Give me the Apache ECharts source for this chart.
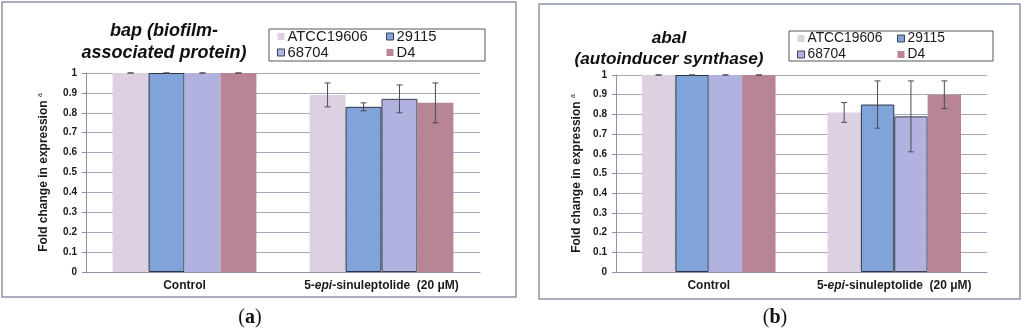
<!DOCTYPE html>
<html>
<head>
<meta charset="utf-8">
<script src="https://cdn.jsdelivr.net/npm/echarts@6/dist/echarts.min.js"></script>
<style>
html,body{margin:0;padding:0;background:#fff;}
#c{width:1024px;height:335px;}
</style>
</head>
<body>
<div id="c"></div>
<script>
// ---- data ----
const categories = ['Control', '5-epi-sinuleptolide  (20 μM)'];
const strains = ['ATCC19606', '29115', '68704', 'D4'];
const yTicks = [0, 0.1, 0.2, 0.3, 0.4, 0.5, 0.6, 0.7, 0.8, 0.9, 1];

// panel (a): bap (biofilm-associated protein)
const bapATCC = [1, 0.89];
const bap29115 = [1, 0.83];
const bap68704 = [1, 0.87];
const bapD4 = [1, 0.85];
const bapATCCErr = [0, 0.06];
const bap29115Err = [0, 0.02];
const bap68704Err = [0, 0.07];
const bapD4Err = [0, 0.10];

// panel (b): abaI (autoinducer synthase)
const abaATCC = [1, 0.81];
const aba29115 = [1, 0.85];
const aba68704 = [1, 0.79];
const abaD4 = [1, 0.90];
const abaATCCErr = [0, 0.05];
const aba29115Err = [0, 0.12];
const aba68704Err = [0, 0.18];
const abaD4Err = [0, 0.07];

// ---- styles ----
const colors = ['#ddd0e1', '#80a3d9', '#b1b2df', '#b78596'];
const FONT = 'Liberation Sans, Arial, sans-serif';
const gridLine = '#a6a9bd';
const axisCol = '#8c90a8';

const chart = echarts.init(document.getElementById('c'));

const panels = [
  { vals: [bapATCC, bap29115, bap68704, bapD4], errs: [bapATCCErr, bap29115Err, bap68704Err, bapD4Err], gap: 0.27, nameGap: 35 },
  { vals: [abaATCC, aba29115, aba68704, abaD4], errs: [abaATCCErr, aba29115Err, aba68704Err, abaD4Err], gap: 0.28, nameGap: 32 }
];

function xLabel(v) {
  if (v.indexOf('epi') >= 0) {
    const parts = v.split('epi');
    return '{b|' + parts[0] + '}{i|epi}{b|' + parts[1] + '}';
  }
  return '{b|' + v + '}';
}

const xAxes = [], yAxes = [], series = [];
panels.forEach(function (p, gi) {
  xAxes.push({
    type: 'category', gridIndex: gi, data: categories,
    axisLine: { lineStyle: { color: axisCol, width: 1 } },
    axisTick: { show: false },
    axisLabel: {
      margin: 8, interval: 0, formatter: xLabel,
      rich: {
        b: { fontFamily: FONT, fontSize: 12, fontWeight: 'bold', color: '#1a1a1a' },
        i: { fontFamily: FONT, fontSize: 12, fontWeight: 'bold', fontStyle: 'italic', color: '#1a1a1a' }
      }
    }
  });
  yAxes.push({
    type: 'value', gridIndex: gi, min: yTicks[0], max: yTicks[yTicks.length - 1], interval: yTicks[1] - yTicks[0],
    name: '{n|Fold change in expression }{s|a}',
    nameLocation: 'middle', nameRotate: 90, nameGap: p.nameGap,
    nameTextStyle: {
      rich: {
        n: { fontFamily: FONT, fontSize: 12, fontWeight: 'bold', color: '#1a1a1a', lineHeight: 14 },
        s: { fontFamily: FONT, fontSize: 7, color: '#1a1a1a', verticalAlign: 'top', lineHeight: 14 }
      }
    },
    axisLine: { show: true, lineStyle: { color: axisCol, width: 1 } },
    axisTick: { show: true, length: 4, lineStyle: { color: axisCol } },
    splitLine: { show: true, lineStyle: { color: gridLine, width: 1 } },
    axisLabel: { fontFamily: FONT, fontSize: 10, fontWeight: 'bold', color: '#1a1a1a', margin: 9 }
  });
  strains.forEach(function (s, si) {
    const data = p.vals[si].map(function (v, ci) {
      if (si === 2 && ci === 1) {
        return { value: v, itemStyle: { borderColor: '#3a4254', borderWidth: 1 } };
      }
      return v;
    });
    series.push({
      name: s, type: 'bar', xAxisIndex: gi, yAxisIndex: gi, data: data,
      barGap: '0%', barCategoryGap: (p.gap * 100) + '%',
      itemStyle: si === 1 ? { color: colors[si], borderColor: '#2b3446', borderWidth: 1 } : { color: colors[si] },
      emphasis: { disabled: true }, animation: false
    });
  });
  const errData = [];
  strains.forEach(function (s, si) {
    p.vals[si].forEach(function (v, ci) {
      errData.push([ci, v - p.errs[si][ci], v + p.errs[si][ci], si]);
    });
  });
  const gap = p.gap;
  series.push({
    type: 'custom', xAxisIndex: gi, yAxisIndex: gi, z: 10, animation: false,
    encode: { x: 0, y: [1, 2] },
    data: errData,
    renderItem: function (params, api) {
      const ci = api.value(0), lo = api.value(1), hi = api.value(2), si = api.value(3);
      const band = api.size([1, 0])[0];
      const groupW = band * (1 - gap);
      const barW = groupW / strains.length;
      const cx = api.coord([ci, 0])[0] - groupW / 2 + barW * (si + 0.5);
      const yLo = api.coord([ci, lo])[1], yHi = api.coord([ci, hi])[1];
      const cap = 3;
      const st = { stroke: '#4a4a55', lineWidth: 1 };
      return {
        type: 'group',
        children: [
          { type: 'line', shape: { x1: cx, y1: yLo, x2: cx, y2: yHi }, style: st },
          { type: 'line', shape: { x1: cx - cap, y1: yHi, x2: cx + cap, y2: yHi }, style: st },
          { type: 'line', shape: { x1: cx - cap, y1: yLo, x2: cx + cap, y2: yLo }, style: st }
        ]
      };
    }
  });
});

function legendData(names) {
  return names.map(function (n) {
    const si = strains.indexOf(n);
    if (si === 1 || si === 2) {
      return { name: n, itemStyle: { borderColor: '#3a4254', borderWidth: 1 } };
    }
    return { name: n };
  });
}
function mkLegend(left, top, names, fs) {
  return {
    orient: 'vertical', left: left, top: top, padding: 0, itemGap: 1,
    itemWidth: 7, itemHeight: 7, icon: 'rect', itemStyle: {},
    selectedMode: false,
    textStyle: { fontFamily: FONT, fontSize: fs, color: '#1a1a1a', lineHeight: 15, padding: [0, 0, 0, -2] },
    data: legendData(names)
  };
}

const option = {
  animation: false,
  backgroundColor: '#ffffff',
  title: [
    {
      text: 'bap (biofilm-\nassociated protein)', left: 159, top: 15, textAlign: 'center',
      textStyle: { fontFamily: FONT, fontSize: 18, fontWeight: 'bold', fontStyle: 'italic', color: '#111', lineHeight: 22 }
    },
    {
      text: 'abaI\n(autoinducer synthase)', left: 664, top: 23, textAlign: 'center',
      textStyle: { fontFamily: FONT, fontSize: 17.2, fontWeight: 'bold', fontStyle: 'italic', color: '#111', lineHeight: 21 }
    }
  ],
  legend: [
    mkLegend(277, 29, ['ATCC19606', '68704'], 14.8),
    mkLegend(386, 29, ['29115', 'D4'], 14.8),
    mkLegend(797, 31, ['ATCC19606', '68704'], 13.8),
    mkLegend(897, 31, ['29115', 'D4'], 13.8)
  ],
  grid: [
    { left: 86, right: 1024 - 480, top: 73, bottom: 335 - 272 },
    { left: 616, right: 1024 - 987, top: 75, bottom: 335 - 272 }
  ],
  xAxis: xAxes,
  yAxis: yAxes,
  series: series,
  graphic: [
    { type: 'rect', shape: { x: 2, y: 2, width: 514, height: 295 }, style: { fill: 'none', stroke: '#8f93aa', lineWidth: 1.5 }, silent: true, z: -1 },
    { type: 'rect', shape: { x: 539, y: 4, width: 481, height: 295 }, style: { fill: 'none', stroke: '#8f93aa', lineWidth: 1.5 }, silent: true, z: -1 },
    { type: 'rect', shape: { x: 269, y: 29, width: 216, height: 32 }, style: { fill: 'none', stroke: '#55575f', lineWidth: 1 }, silent: true },
    { type: 'rect', shape: { x: 789, y: 31, width: 204, height: 30 }, style: { fill: 'none', stroke: '#55575f', lineWidth: 1 }, silent: true },
    {
      type: 'text', x: 250, y: 318, silent: true,
      style: {
        text: '{p|(}{a|a}{p|)}', align: 'center', verticalAlign: 'middle',
        rich: {
          p: { fontFamily: 'Liberation Serif, serif', fontSize: 20, fill: '#111' },
          a: { fontFamily: 'Liberation Serif, serif', fontSize: 20, fontWeight: 'bold', fill: '#111' }
        }
      }
    },
    {
      type: 'text', x: 775, y: 318, silent: true,
      style: {
        text: '{p|(}{a|b}{p|)}', align: 'center', verticalAlign: 'middle',
        rich: {
          p: { fontFamily: 'Liberation Serif, serif', fontSize: 20, fill: '#111' },
          a: { fontFamily: 'Liberation Serif, serif', fontSize: 20, fontWeight: 'bold', fill: '#111' }
        }
      }
    }
  ]
};
chart.setOption(option);
</script>
</body>
</html>
